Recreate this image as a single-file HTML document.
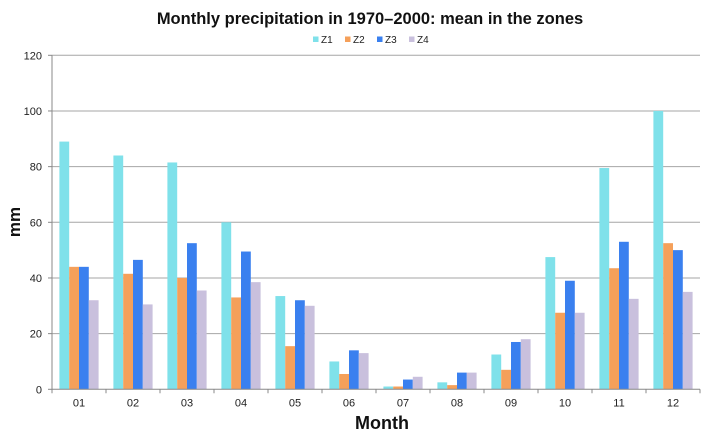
<!DOCTYPE html>
<html><head><meta charset="utf-8"><style>
body{margin:0;background:#fff}
svg{display:block;font-family:"Liberation Sans",sans-serif}
</style></head><body>
<svg id="c" width="709" height="435">
<text x="370" y="24" text-anchor="middle" font-size="16.5" font-weight="bold" fill="#111">Monthly precipitation in 1970–2000: mean in the zones</text>
<text transform="translate(20,222) rotate(-90)" text-anchor="middle" font-size="17" font-weight="bold" fill="#111">mm</text>
<text x="382" y="429" text-anchor="middle" font-size="18" font-weight="bold" fill="#111">Month</text>
<g id="grid"></g><g id="bars"></g><g id="axes"></g><g id="legend"></g>
</svg>
<script>
const categories=["01","02","03","04","05","06","07","08","09","10","11","12"];
const seriesNames=["Z1","Z2","Z3","Z4"];
const z1=[89,84,81.5,60,33.5,10,1,2.5,12.5,47.5,79.5,100];
const z2=[44,41.5,40,33,15.5,5.5,1,1.5,7,27.5,43.5,52.5];
const z3=[44,46.5,52.5,49.5,32,14,3.5,6,17,39,53,50];
const z4=[32,30.5,35.5,38.5,30,13,4.5,6,18,27.5,32.5,35];
const yTicks=[0,20,40,60,80,100,120];
const colors=["#7fe1ea","#f5a05a","#3a80ef","#c9c0dd"];
const series=[z1,z2,z3,z4];
const NS="http://www.w3.org/2000/svg";
const L=52,R=700,T=55.3,B=389.3;
const y=v=>B-(v/120)*(B-T);
const band=(R-L)/categories.length;
const x=i=>L+i*band;
function mk(tag,attrs,parent){const e=document.createElementNS(NS,tag);for(const k in attrs)e.setAttribute(k,attrs[k]);document.getElementById(parent).appendChild(e);return e;}
yTicks.forEach(t=>{
  if(t>0){const g=mk("line",{x1:L,x2:R,y1:y(t),y2:y(t),stroke:"#a6a6a6","stroke-width":1},"grid");
  
  }
  const tx=mk("text",{x:L-10,y:y(t)+4,"text-anchor":"end","font-size":11,fill:"#222"},"axes");
  tx.textContent=t;
  
  
  const tk=mk("line",{x1:L-4,x2:L,y1:y(t),y2:y(t),stroke:"#888"},"axes");
  
  
});
const bw=9.8,pad=(band-4*bw)/2;
categories.forEach((c,i)=>{
  series.forEach((s,j)=>{
    const r=mk("rect",{x:x(i)+pad+j*bw,y:y(s[i]),width:bw,height:B-y(s[i]),fill:colors[j]},"bars");
    
    
  });
  const tx=mk("text",{x:x(i)+band/2,y:B+17,"text-anchor":"middle","font-size":11,fill:"#222"},"axes");
  tx.textContent=c;
  
  
});
for(let i=0;i<=categories.length;i++){
  const tk=mk("line",{x1:x(i),x2:x(i),y1:B,y2:B+4,stroke:"#888"},"axes");
  
  
}
const ya=mk("line",{x1:L,x2:L,y1:T,y2:B,stroke:"#888"},"axes");


const xa=mk("line",{x1:L,x2:R,y1:B,y2:B,stroke:"#888"},"axes");


const lx=[313,345,377,409];
seriesNames.forEach((n,j)=>{
  const g=mk("g",{},"legend");
  
  
  const r=document.createElementNS(NS,"rect");
  r.setAttribute("x",lx[j]);r.setAttribute("y",36.5);r.setAttribute("width",5.5);r.setAttribute("height",5.5);r.setAttribute("fill",colors[j]);
  
  
  g.appendChild(r);
  const t=document.createElementNS(NS,"text");
  t.setAttribute("x",lx[j]+8);t.setAttribute("y",43);t.setAttribute("font-size",10);t.setAttribute("fill","#222");
  t.textContent=n;
  
  
  g.appendChild(t);
});
</script>
</body></html>
